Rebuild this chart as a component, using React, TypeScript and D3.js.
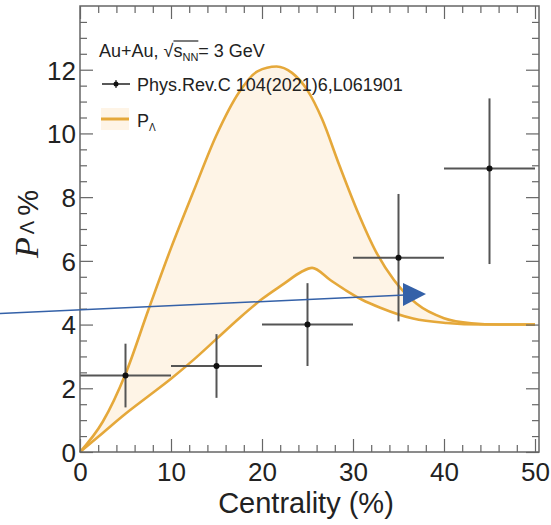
import React, { useEffect, useRef } from 'react';
import * as d3 from 'd3';

// Experimental points (STAR, Phys.Rev.C 104(2021)6,L061901)
const centrality = [5, 15, 25, 35, 45];
const centralityErr = [5, 5, 5, 5, 5];
const polarization = [2.4, 2.7, 4.0, 6.1, 8.9];
const polarizationErrUp = [1.0, 1.0, 1.3, 2.0, 2.2];
const polarizationErrDown = [1.0, 1.0, 1.3, 2.0, 3.0];

// Model band P_Lambda : upper and lower edges
const upperX = [0, 2.5, 5, 7.5, 10, 12.5, 15, 17.5, 19.5, 21.6, 23.3, 25, 26.6, 28.5, 30.5, 32.5, 34.5, 37, 40, 43, 46, 50];
const upperY = [0, 0.95, 2.45, 4.45, 6.4, 8.2, 9.95, 11.3, 11.95, 12.1, 11.9, 11.35, 10.45, 9.0, 7.55, 6.3, 5.4, 4.65, 4.2, 4.04, 4.0, 4.0];
const lowerX = [0, 2.5, 5, 7.5, 10, 12.5, 15, 17.5, 20, 22.5, 24.3, 25.5, 27.5, 29.3, 31, 33, 36.6, 40.3, 44, 50];
const lowerY = [0, 0.6, 1.2, 1.75, 2.3, 2.9, 3.55, 4.2, 4.8, 5.3, 5.65, 5.78, 5.4, 5.06, 4.78, 4.53, 4.19, 4.05, 4.0, 4.0];

const xMajor = [0, 10, 20, 30, 40, 50];
const yMajor = [0, 2, 4, 6, 8, 10, 12];

const W = 551;
const H = 525;
const frame = { left: 80, right: 539, top: 6, bottom: 452 };

const ORANGE = '#E5A83A';
const BAND = '#FEF4E6';
const AXIS = '#666';

const App = () => {
  const ref = useRef<SVGSVGElement>(null);

  useEffect(() => {
    const svg = d3.select(ref.current);
    svg.selectAll('*').remove();

    const x = d3.scaleLinear().domain([0, 50]).range([frame.left, 535]);
    const y = d3.scaleLinear().domain([0, 14]).range([frame.bottom, frame.top]);

    const up = upperX.map((v, i) => [v, upperY[i]] as [number, number]);
    const lo = lowerX.map((v, i) => [v, lowerY[i]] as [number, number]);

    // band: area under upper minus area under lower (evenodd)
    const area = d3.area<[number, number]>()
      .x(d => x(d[0]))
      .y0(y(0))
      .y1(d => y(d[1]))
      .curve(d3.curveMonotoneX);
    svg.append('path')
      .attr('d', (area(up) || '') + (area(lo) || ''))
      .attr('fill', BAND)
      .attr('fill-rule', 'evenodd');

    const line = d3.line<[number, number]>()
      .x(d => x(d[0]))
      .y(d => y(d[1]))
      .curve(d3.curveMonotoneX);
    [up, lo].forEach(pts => {
      svg.append('path')
        .attr('d', line(pts))
        .attr('fill', 'none')
        .attr('stroke', ORANGE)
        .attr('stroke-width', 2.6);
    });

    // error bars + points
    const pts = svg.append('g');
    centrality.forEach((c, i) => {
      const p = polarization[i];
      pts.append('line')
        .attr('x1', x(c - centralityErr[i])).attr('x2', x(c + centralityErr[i]))
        .attr('y1', y(p)).attr('y2', y(p))
        .attr('stroke', '#555').attr('stroke-width', 2);
      pts.append('line')
        .attr('x1', x(c)).attr('x2', x(c))
        .attr('y1', y(p - polarizationErrDown[i])).attr('y2', y(p + polarizationErrUp[i]))
        .attr('stroke', '#555').attr('stroke-width', 2);
      pts.append('circle')
        .attr('cx', x(c)).attr('cy', y(p)).attr('r', 3)
        .attr('fill', '#111');
    });

    // axes with inward ticks on all sides
    const font = "'Liberation Sans', Arial, sans-serif";
    const xMinor = d3.range(0, 50.01, 2);
    const yMinor = d3.range(0, 14.01, 0.5);

    const addAxis = (axis: any, tf: string, labels: boolean) => {
      const g = svg.append('g').attr('transform', tf).call(axis);
      g.select('.domain').remove();
      g.selectAll('line').attr('stroke', AXIS).attr('stroke-width', 1.2);
      if (!labels) g.selectAll('text').remove();
      return g;
    };

    const yl = addAxis(d3.axisLeft(y).tickValues(yMajor).tickSize(-13).tickPadding(4).tickFormat(d3.format('d')), `translate(${frame.left},0)`, true);
    yl.selectAll('text').attr('font-size', 26).attr('font-family', font).attr('fill', '#222').attr('dy', '0.36em');
    addAxis(d3.axisLeft(y).tickValues(yMinor.filter(v => v % 2 !== 0)).tickSize(-7).tickFormat(() => ''), `translate(${frame.left},0)`, false);
    addAxis(d3.axisRight(y).tickValues(yMajor).tickSize(-13), `translate(${frame.right},0)`, false);
    addAxis(d3.axisRight(y).tickValues(yMinor.filter(v => v % 2 !== 0)).tickSize(-7), `translate(${frame.right},0)`, false);

    const xl = addAxis(d3.axisBottom(x).tickValues(xMajor).tickSize(-13).tickPadding(10).tickFormat(d3.format('d')), `translate(0,${frame.bottom})`, true);
    xl.selectAll('text').attr('font-size', 26).attr('font-family', font).attr('fill', '#222').attr('dy', '0.72em');
    addAxis(d3.axisBottom(x).tickValues(xMinor.filter(v => v % 10 !== 0)).tickSize(-7), `translate(0,${frame.bottom})`, false);
    addAxis(d3.axisTop(x).tickValues(xMajor).tickSize(-13), `translate(0,${frame.top})`, false);
    addAxis(d3.axisTop(x).tickValues(xMinor.filter(v => v % 10 !== 0)).tickSize(-7), `translate(0,${frame.top})`, false);

    svg.append('rect')
      .attr('x', frame.left).attr('y', frame.top)
      .attr('width', frame.right - frame.left).attr('height', frame.bottom - frame.top)
      .attr('fill', 'none').attr('stroke', AXIS).attr('stroke-width', 1.5);

    // axis titles
    svg.append('text')
      .attr('x', 306).attr('y', 513)
      .attr('text-anchor', 'middle')
      .attr('font-family', font).attr('font-size', 29).attr('fill', '#222')
      .text('Centrality (%)');

    const yt = svg.append('text')
      .attr('transform', 'translate(38,224) rotate(-90)')
      .attr('text-anchor', 'middle')
      .attr('fill', '#222');
    yt.append('tspan').attr('font-family', "'Liberation Serif', serif").attr('font-style', 'italic').attr('font-size', 34).text('P');
    yt.append('tspan').attr('font-family', font).attr('font-size', 20).attr('dx', 3).attr('dy', -4).text('Λ');
    yt.append('tspan').attr('font-family', font).attr('font-size', 29).attr('dx', 5).attr('dy', 4).text('%');

    // legend
    const t1 = svg.append('text')
      .attr('x', 99).attr('y', 57)
      .attr('font-family', font).attr('font-size', 18).attr('fill', '#222');
    t1.append('tspan').text('Au+Au, √');
    t1.append('tspan').text('s');
    t1.append('tspan').attr('font-size', 11).attr('dy', 4).text('NN');
    t1.append('tspan').attr('dy', -4).text('= 3 GeV');
    const tn = t1.node() as SVGTextElement;
    const sStart = tn.getExtentOfChar(8);
    const nEnd = tn.getExtentOfChar(10);
    svg.append('line')
      .attr('x1', sStart.x).attr('x2', nEnd.x + nEnd.width)
      .attr('y1', 41).attr('y2', 41)
      .attr('stroke', '#222').attr('stroke-width', 1.2);

    svg.append('line')
      .attr('x1', 102).attr('x2', 130).attr('y1', 84).attr('y2', 84)
      .attr('stroke', '#222').attr('stroke-width', 1.5);
    svg.append('line')
      .attr('x1', 116).attr('x2', 116).attr('y1', 80).attr('y2', 88)
      .attr('stroke', '#222').attr('stroke-width', 1.2);
    svg.append('circle').attr('cx', 116).attr('cy', 84).attr('r', 2.5).attr('fill', '#111');
    svg.append('text')
      .attr('x', 137).attr('y', 91)
      .attr('font-family', font).attr('font-size', 18).attr('fill', '#222')
      .text('Phys.Rev.C 104(2021)6,L061901');

    svg.append('rect')
      .attr('x', 101).attr('y', 108).attr('width', 28).attr('height', 22)
      .attr('fill', BAND);
    svg.append('line')
      .attr('x1', 101).attr('x2', 129).attr('y1', 119).attr('y2', 119)
      .attr('stroke', ORANGE).attr('stroke-width', 3);
    const t3 = svg.append('text')
      .attr('x', 137).attr('y', 127)
      .attr('font-family', font).attr('font-size', 18).attr('fill', '#222');
    t3.append('tspan').text('P');
    t3.append('tspan').attr('font-size', 10).attr('dy', 4).text('Λ');

    // blue annotation arrow
    svg.append('line')
      .attr('x1', 0).attr('y1', 313.5).attr('x2', 405).attr('y2', 295)
      .attr('stroke', '#3461A8').attr('stroke-width', 1.5);
    svg.append('polygon')
      .attr('points', '403,283 403,306 426,294')
      .attr('fill', '#3461A8');
  }, []);

  return (
    <svg
      ref={ref}
      width={W}
      height={H}
      style={{ position: 'absolute', left: 0, top: 0, background: '#fff' }}
    />
  );
};

export default App;
